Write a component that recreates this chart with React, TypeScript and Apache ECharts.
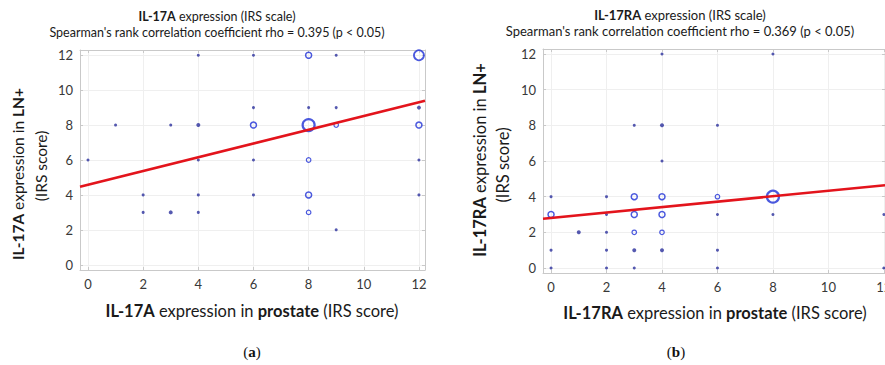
import React, { useEffect, useRef } from "react";
import * as echarts from "echarts";

const FONT = 'Lato, "Open Sans", "Noto Sans", sans-serif';
const SERIF = '"Liberation Serif", "DejaVu Serif", serif';

// [IRS score in prostate, IRS score in LN+, marker size class (1 = single case ... 6 = many cases)]
const pointsA: number[][] = [
  [0, 6, 1], [1, 8, 1], [3, 8, 1], [4, 8, 2], [4, 12, 1], [4, 6, 1],
  [2, 4, 1], [4, 4, 1], [2, 3, 1], [3, 3, 2], [4, 3, 1],
  [6, 12, 1], [8, 12, 4], [9, 12, 1], [12, 12, 5],
  [6, 9, 1], [8, 9, 1], [9, 9, 1], [12, 9, 2],
  [6, 8, 4], [8, 8, 6], [9, 8, 3], [12, 8, 4],
  [6, 6, 1], [8, 6, 3], [12, 6, 1],
  [6, 4, 1], [8, 4, 4], [12, 4, 1], [8, 3, 3], [9, 2, 1],
];

const pointsB: number[][] = [
  [0, 4, 1], [0, 3, 4], [0, 1, 1], [0, 0, 1],
  [1, 2, 2],
  [2, 4, 1], [2, 3, 1], [2, 2, 1], [2, 1, 1], [2, 0, 1],
  [3, 8, 1], [3, 4, 4], [3, 3, 4], [3, 2, 3], [3, 1, 2], [3, 0, 1],
  [4, 12, 1], [4, 8, 2], [4, 6, 1], [4, 4, 4], [4, 3, 4], [4, 2, 3], [4, 1, 2],
  [6, 8, 1], [6, 4, 3], [6, 3, 1], [6, 1, 1], [6, 0, 1],
  [8, 12, 1], [8, 4, 6], [8, 3, 1],
  [12, 3, 1], [12, 0, 1],
];

// Regression lines
const fitA = { intercept: 4.58, slope: 0.394 };
const fitB = { intercept: 2.81, slope: 0.152 };

// Axis extents (IRS score)
const extentA = { xMin: -0.29, xMax: 12.22, yMin: -0.3, yMax: 12.3 };
const extentB = { xMin: -0.29, xMax: 12.04, yMin: -0.28, yMax: 12.28 };

const titlesA = ["{b|IL-17A} expression (IRS scale)", "Spearman's rank correlation coefficient rho = 0.395 (p < 0.05)"];
const titlesB = ["{b|IL-17RA} expression (IRS scale)", "Spearman's rank correlation coefficient rho = 0.369 (p < 0.05)"];
const xNameA = "{b|IL-17A} expression in {b|prostate} (IRS score)";
const xNameB = "{b|IL-17RA} expression in {b|prostate} (IRS score)";
const yNameA = ["{b|IL-17A} expression in {b|LN+}", "(IRS score)"];
const yNameB = ["{b|IL-17RA} expression in {b|LN+}", "(IRS score)"];
const captions = ["a", "b"];

const sizeClasses = [
  { cls: 1, size: 3, filled: true, border: 0 },
  { cls: 2, size: 4, filled: true, border: 0 },
  { cls: 3, size: 4.5, filled: false, border: 1.2 },
  { cls: 4, size: 6, filled: false, border: 1.5 },
  { cls: 5, size: 10, filled: false, border: 1.8 },
  { cls: 6, size: 12, filled: false, border: 2.2 },
];

const DOT = "#2a2f9c";
const RING = "#1e2fd6";
const BOX = "#c9c9c9";
const GRIDC = "#efefef";

function seriesFor(points: number[][], fit: { intercept: number; slope: number }, idx: number, ext: any) {
  const s: any[] = sizeClasses.map((c) => ({
    type: "scatter",
    xAxisIndex: idx * 2,
    yAxisIndex: idx * 2,
    symbol: "circle",
    symbolSize: c.size,
    silent: true,
    data: points.filter((p) => p[2] === c.cls).map((p) => [p[0], p[1]]),
    itemStyle: c.filled
      ? { color: DOT, borderWidth: 0 }
      : { color: "rgba(0,0,0,0)", borderColor: RING, borderWidth: c.border },
  }));
  s.push({
    type: "line",
    xAxisIndex: idx * 2,
    yAxisIndex: idx * 2,
    silent: true,
    symbol: "none",
    z: 5,
    data: [
      [ext.xMin, fit.intercept + fit.slope * ext.xMin],
      [ext.xMax, fit.intercept + fit.slope * ext.xMax],
    ],
    lineStyle: { color: "#e3141c", width: 2.6 },
  });
  return s;
}

const labelFmt = (v: number) => (Math.abs(v - Math.round(v)) < 1e-6 ? String(Math.round(v)) : "");

function axesFor(gridIndex: number, ext: any) {
  const common = {
    type: "value",
    gridIndex,
    minInterval: 2,
    maxInterval: 2,
    axisLine: { show: true, onZero: false, lineStyle: { color: BOX, width: 1 } },
    axisTick: { show: true, inside: true, length: 3, lineStyle: { color: BOX } },
  };
  const label = { color: "#383838", fontSize: 13, fontFamily: FONT, formatter: labelFmt };
  const xs = [
    { ...common, position: "bottom", min: ext.xMin, max: ext.xMax,
      axisLabel: { ...label, margin: 7 }, splitLine: { show: true, lineStyle: { color: GRIDC } } },
    { ...common, position: "top", min: ext.xMin, max: ext.xMax,
      axisLabel: { show: false }, splitLine: { show: false } },
  ];
  const ys = [
    { ...common, position: "left", min: ext.yMin, max: ext.yMax,
      axisLabel: { ...label, margin: 7 }, splitLine: { show: true, lineStyle: { color: GRIDC } } },
    { ...common, position: "right", min: ext.yMin, max: ext.yMax,
      axisLabel: { show: false }, splitLine: { show: false } },
  ];
  return { xs, ys };
}

const rich = (size: number) => ({
  b: { fontWeight: "bold", fontSize: size, fontFamily: FONT, fill: "#1a1a1a", color: "#1a1a1a" },
  n: { fontSize: size, fontFamily: FONT, fill: "#1a1a1a", color: "#1a1a1a" },
});

function wrapRich(t: string) {
  const out: string[] = [];
  const re = /\{b\|([^}]*)\}/g;
  let last = 0;
  let m;
  while ((m = re.exec(t))) {
    if (m.index > last) out.push("{n|" + t.slice(last, m.index) + "}");
    out.push(m[0]);
    last = m.index + m[0].length;
  }
  if (last < t.length) out.push("{n|" + t.slice(last) + "}");
  return out.join("");
}

function textEl(text: string, x: number, y: number, size: number, rotation = 0) {
  return {
    type: "text",
    x,
    y,
    rotation,
    silent: true,
    style: {
      text: wrapRich(text),
      rich: rich(size),
      fontSize: size,
      fontFamily: FONT,
      fill: "#1a1a1a",
      align: "center",
      verticalAlign: "middle",
      textAlign: "center",
      textVerticalAlign: "middle",
    },
  };
}

function captionEl(letter: string, x: number, y: number) {
  return {
    type: "text", x, y, silent: true,
    style: {
      text: "{n|(}{b|" + letter + "}{n|)}",
      rich: {
        n: { fontFamily: SERIF, fontSize: 15, fill: "#111" },
        b: { fontFamily: SERIF, fontSize: 15, fontWeight: "bold", fill: "#111" },
      },
      align: "center", verticalAlign: "middle", textAlign: "center", textVerticalAlign: "middle",
    },
  };
}

export default function App() {
  const ref = useRef<HTMLDivElement>(null);
  useEffect(() => {
    if (!ref.current) return;
    const chart = echarts.init(ref.current, null, { renderer: "svg" });
    const a = axesFor(0, extentA);
    const b = axesFor(1, extentB);
    const R = Math.PI / 2;
    chart.setOption({
      animation: false,
      backgroundColor: "#ffffff",
      grid: [
        { left: 80, top: 50, width: 345, height: 220, show: false, outerBoundsMode: "none", containLabel: false },
        { left: 543, top: 49, width: 342, height: 224, show: false, outerBoundsMode: "none", containLabel: false },
      ],
      xAxis: [...a.xs, ...b.xs],
      yAxis: [...a.ys, ...b.ys],
      series: [...seriesFor(pointsA, fitA, 0, extentA), ...seriesFor(pointsB, fitB, 1, extentB)],
      graphic: [
        textEl(titlesA[0], 217, 16, 12.5),
        textEl(titlesA[1], 217, 32, 12.5),
        textEl(titlesB[0], 680, 15, 13),
        textEl(titlesB[1], 680, 31, 13),
        textEl(xNameA, 252, 311, 16.5),
        textEl(xNameB, 715, 313, 16.5),
        textEl(yNameA[0], 18, 174, 15.5, R),
        textEl(yNameA[1], 41, 166, 15.5, R),
        textEl(yNameB[0], 480, 160, 16.5, R),
        textEl(yNameB[1], 503, 165, 16.5, R),
        captionEl(captions[0], 252, 352),
        captionEl(captions[1], 676, 352),
      ],
    });
    return () => chart.dispose();
  }, []);
  return (
    <div
      ref={ref}
      style={{ position: "fixed", left: 0, top: 0, width: 885, height: 365, background: "#fff" }}
    />
  );
}
